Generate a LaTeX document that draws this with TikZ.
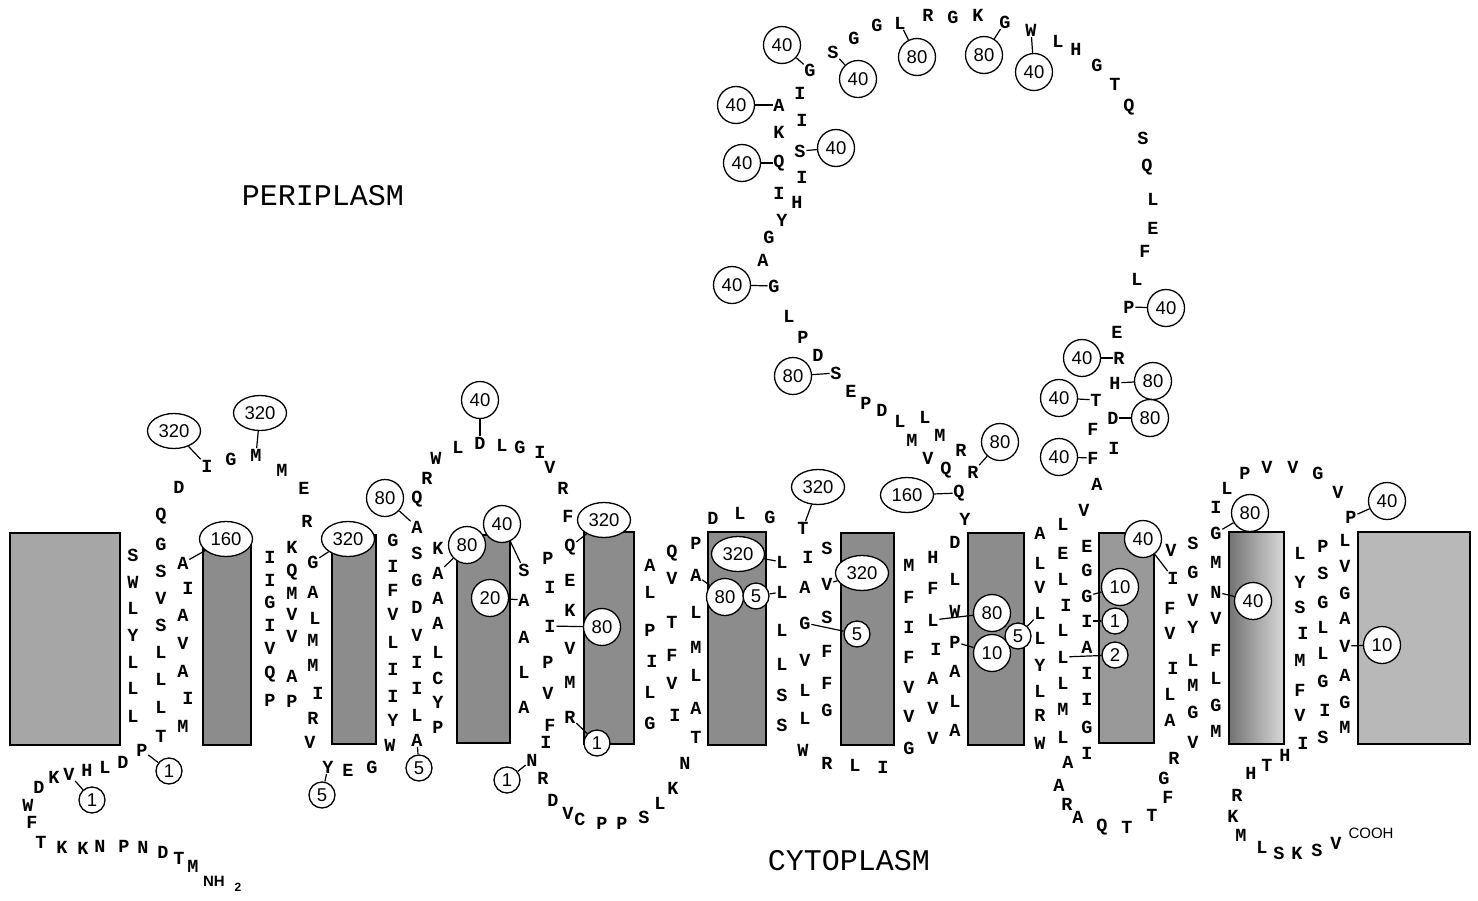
\documentclass[tikz,border=0pt]{standalone}
\usepackage{fontspec}
\usetikzlibrary{shapes.geometric}
\newfontfamily\aamono{Liberation Mono}
\newfontfamily\numsans{Liberation Sans}
\newcommand\aafont{\aamono\bfseries\fontsize{18.5}{18.5}\selectfont}
\newcommand\numfont{\numsans\fontsize{18.5}{18.5}\selectfont}
\newcommand\regfont{\aamono\fontsize{30}{30}\selectfont}
\begin{document}
\begin{tikzpicture}[x=1pt,y=-1pt,
  aa/.style={font=\aafont, inner sep=0.6pt},
  num/.style={circle, draw, line width=1.3pt, fill=white, minimum size=37pt, inner sep=0pt, font=\numfont},
  sm/.style={num, minimum size=26pt},
  el/.style={ellipse, draw, line width=1.3pt, fill=white, minimum width=53pt, minimum height=35pt, inner sep=0pt, font=\numfont},
  lk/.style={line width=1.2pt},
  tm/.style={draw, line width=1.8pt, fill=black!45},
  region/.style={font=\regfont}]
\useasboundingbox (0,0) rectangle (1478,900);

% membrane-spanning segments
\draw[tm, fill=black!35] (10,533) rectangle (120,745);
\draw[tm] (203,535) rectangle (251,745);
\draw[tm] (332,535) rectangle (376,744);
\draw[tm] (457,535) rectangle (510,743);
\draw[tm] (584,532) rectangle (634,744);
\draw[tm] (708,532) rectangle (766,745);
\draw[tm] (841,533) rectangle (894,745);
\draw[tm] (968,533) rectangle (1024,745);
\draw[tm, fill=black!40] (1099,533) rectangle (1154,743);
\draw[line width=1.8pt, left color=black!55, right color=black!15] (1229,532) rectangle (1284,744);
\draw[tm, fill=black!28] (1358,532) rectangle (1470,744);

% compartment labels
\node[region] (peri) at (323,196) {PERIPLASM};
\node[region] (cyto) at (849,861) {CYTOPLASM};
\node[font=\numsans\bfseries\fontsize{15}{15}\selectfont, inner sep=0pt] (nh) at (214,881) {NH};
\node[font=\numsans\bfseries\fontsize{12}{12}\selectfont, inner sep=0pt] (nhtwo) at (238,887) {2};
\node[font=\numsans\fontsize{15}{15}\selectfont, inner sep=0pt] (cooh) at (1371,833) {COOH};

% labelled positions (circles and ellipses)
\node[sm] (ntc1) at (92,800) {1};
\node[sm] (ntc2) at (169,771) {1};
\node[el] (e320a) at (174,431) {320};
\node[el] (e320b) at (260,413) {320};
\node[el] (e160a) at (226,539) {160};
\node[el] (e320c) at (348,539) {320};
\node[sm] (s5a) at (322,795) {5};
\node[num] (c80a) at (385,498) {80};
\node[sm] (s5b) at (419,768) {5};
\node[num] (c40a) at (480,400) {40};
\node[num] (c80b) at (467,545) {80};
\node[num] (c40b) at (502,524) {40};
\node[num] (c20) at (490,598) {20};
\node[el] (e320d) at (604,520) {320};
\node[num] (c80c) at (602,627) {80};
\node[sm] (s1a) at (597,743) {1};
\node[sm] (s1b) at (507,780) {1};
\node[el] (e320e) at (818,487) {320};
\node[el] (e320f) at (738,554) {320};
\node[num] (c80d) at (725,597) {80};
\node[sm] (s5c) at (756,596) {5};
\node[el] (e320g) at (862,573) {320};
\node[sm] (s5d) at (857,634) {5};
\node[el] (e160b) at (907,495) {160};
\node[num] (c80e) at (1000,442) {80};
\node[num] (c80f) at (992,613) {80};
\node[num] (c10a) at (992,653) {10};
\node[sm] (s5e) at (1018,636) {5};
\node[num] (c40c) at (1143,539) {40};
\node[num] (c10b) at (1120,587) {10};
\node[sm] (s1c) at (1115,621) {1};
\node[sm] (s2) at (1115,655) {2};
\node[num] (c80g) at (1250,513) {80};
\node[num] (c40d) at (1253,601) {40};
\node[num] (c40e) at (1387,501) {40};
\node[num] (c10c) at (1382,645) {10};
\node[num] (c40t1) at (782,45) {40};
\node[num] (c40t2) at (858,79) {40};
\node[num] (c80t1) at (917,57) {80};
\node[num] (c80t2) at (984,55) {80};
\node[num] (c40t3) at (1034,72) {40};
\node[num] (c40t4) at (736,105) {40};
\node[num] (c40t5) at (836,148) {40};
\node[num] (c40t6) at (742,163) {40};
\node[num] (c40t7) at (732,285) {40};
\node[num] (c80t3) at (793,376) {80};
\node[num] (c40t8) at (1166,308) {40};
\node[num] (c40t9) at (1082,358) {40};
\node[num] (c80t4) at (1153,381) {80};
\node[num] (c40t10) at (1059,398) {40};
\node[num] (c80t5) at (1150,418) {80};
\node[num] (c40t11) at (1059,457) {40};

% residues carrying a label
\node[aa] (ntV) at (69,774) {V};
\node[aa] (ntP) at (142,750) {P};
\node[aa] (rA1) at (183,563) {A};
\node[aa] (rI1) at (207,466) {I};
\node[aa] (rM1) at (256,455) {M};
\node[aa] (rG1) at (313,562) {G};
\node[aa] (rY1) at (328,767) {Y};
\node[aa] (rD2) at (480,443) {D};
\node[aa] (rA2) at (417,527) {A};
\node[aa] (rA3) at (417,740) {A};
\node[aa] (rA4) at (438,573) {A};
\node[aa] (rS2) at (524,570) {S};
\node[aa] (rA5) at (524,600) {A};
\node[aa] (rI2) at (550,626) {I};
\node[aa] (rQ2) at (570,547) {Q};
\node[aa] (rR2) at (570,717) {R};
\node[aa] (rN2) at (532,760) {N};
\node[aa] (rA6) at (696,575) {A};
\node[aa] (rT3) at (803,528) {T};
\node[aa] (rL3) at (782,562) {L};
\node[aa] (rL4) at (782,592) {L};
\node[aa] (rG3) at (805,623) {G};
\node[aa] (rV3) at (827,584) {V};
\node[aa] (rL5) at (933,620) {L};
\node[aa] (rP5) at (955,642) {P};
\node[aa] (rQ5) at (959,493) {Q};
\node[aa] (rR5) at (973,472) {R};
\node[aa] (rS5) at (836,373) {S};
\node[aa] (rL6) at (1040,613) {L};
\node[aa] (rL7) at (1063,657) {L};
\node[aa] (rG7) at (1087,596) {G};
\node[aa] (rI7) at (1087,621) {I};
\node[aa] (rI8) at (1173,578) {I};
\node[aa] (rF8) at (1093,458) {F};
\node[aa] (rD8) at (1113,418) {D};
\node[aa] (rT8) at (1096,400) {T};
\node[aa] (rH8) at (1115,383) {H};
\node[aa] (rR8) at (1119,358) {R};
\node[aa] (rP8) at (1129,307) {P};
\node[aa] (rW9) at (1031,30) {W};
\node[aa] (rG9) at (1005,22) {G};
\node[aa] (rL9) at (900,23) {L};
\node[aa] (rS9) at (833,52) {S};
\node[aa] (rG10) at (810,70) {G};
\node[aa] (rA10) at (779,105) {A};
\node[aa] (rS10) at (800,151) {S};
\node[aa] (rQ10) at (779,163) {Q};
\node[aa] (rG11) at (774,286) {G};
\node[aa] (rG12) at (1216,533) {G};
\node[aa] (rN12) at (1216,592) {N};
\node[aa] (rP12) at (1351,517) {P};
\node[aa] (rV12) at (1345,646) {V};

% remaining residues
\foreach \x/\y/\t [count=\i] in {193/866/M,179/858/T,163/852/D,143/847/N,124/846/P,100/846/N,83/848/K,62/847/K,41/842/T,32/822/F,28/805/W,39/787/D,54/777/K,87/770/H,105/767/L,123/762/D}
  \node[aa] (nt\i) at (\x,\y) {\t};

\foreach \x/\y/\t [count=\i] in {133/555/S,133/582/W,133/608/L,133/635/Y,133/662/L,133/688/L,133/716/L,
  161/516/Q,161/544/G,161/571/S,161/598/V,161/625/S,161/652/L,161/679/L,161/707/L,161/736/T,
  188/588/I,183/615/A,183/643/V,183/671/A,188/698/I,183/726/M,
  179/487/D,231/459/G,282/470/M,304/488/E,307/521/R,
  270/557/I,270/580/I,270/602/G,270/625/I,270/648/V,270/674/Q,270/700/P,
  292/547/K,292/572/Q,292/593/M,292/614/V,292/636/V,292/676/A,292/701/P,
  313/592/A,315/618/L,313/640/M,313/665/M,318/693/I,313/718/R,310/742/V,
  348/770/E,372/767/G,390/745/W,
  393/540/G,393/566/I,393/590/F,393/614/V,393/642/L,393/669/I,393/696/I,393/720/Y}
  \node[aa] (ha\i) at (\x,\y) {\t};

\foreach \x/\y/\t [count=\i] in {417/499/Q,427/478/R,436/458/W,458/447/L,502/445/L,520/447/G,540/452/I,550/467/V,563/488/R,568/516/F,
  417/553/S,417/580/G,417/607/D,417/635/V,417/662/I,417/688/I,417/715/L,
  438/548/K,438/598/A,438/623/A,438/652/L,438/678/C,438/702/Y,438/727/P,
  524/637/A,524/672/L,524/707/A,
  548/558/P,550/587/I,548/662/P,548/693/V,550/725/F,546/742/I,
  570/580/E,570/610/K,570/648/V,570/682/M,
  543/778/R,553/800/D,568/813/V,580/819/C,602/823/P,622/823/P,644/817/S,660/803/L,673/788/K,685/763/N,
  650/565/A,650/592/L,650/630/P,652/661/I,650/692/L,650/723/G,
  672/553/Q,672/578/V,672/622/T,672/655/F,672/683/V,675/715/I,
  696/543/P,696/612/L,696/647/M,696/675/L,696/708/A,696/737/T,
  713/518/D,740/513/L,770/517/G}
  \node[aa] (hb\i) at (\x,\y) {\t};

\foreach \x/\y/\t [count=\i] in {782/630/L,782/664/L,782/695/S,782/725/S,
  808/557/I,805/587/A,805/660/V,805/690/L,805/718/L,803/750/W,
  827/548/S,827/617/S,827/651/F,827/683/F,827/710/G,
  827/763/R,855/765/L,883/767/I,
  909/565/M,909/597/F,909/627/I,909/657/F,909/687/V,909/716/V,909/748/G,
  933/557/H,933/588/F,936/649/I,933/678/A,933/708/V,933/738/V,
  955/542/D,955/579/L,955/611/W,955/671/A,955/701/L,955/730/A,
  965/519/Y,946/470/Q,928/458/V,961/450/R,940/435/M,912/440/M,925/417/L,900/421/L,882/410/D,866/403/P,851/391/E}
  \node[aa] (hc\i) at (\x,\y) {\t};

\foreach \x/\y/\t [count=\i] in {1040/533/A,1040/563/L,1040/587/V,1040/638/L,1040/665/Y,1040/691/L,1040/715/R,1040/743/W,
  1063/524/L,1063/553/E,1063/579/L,1066/605/I,1063/630/L,1063/683/L,1063/709/M,1063/737/L,
  1068/762/A,1059/785/A,1067/804/R,1078/817/A,1102/827/Q,1127/827/T,1152/815/T,1168/797/F,1164/778/G,1174/758/R,
  1087/546/E,1087/570/G,1087/647/A,1087/673/I,1087/699/I,1087/727/G,1087/753/I,
  1171/550/V,1170/608/F,1170/633/V,1173/668/I,1170/694/L,1170/720/A,
  1084/510/V,1097/484/A,1114/448/I,1093/429/F,1117/332/E}
  \node[aa] (hd\i) at (\x,\y) {\t};

\foreach \x/\y/\t [count=\i] in {1137/279/L,1145/251/F,1153/228/E,1153/199/L,1147/167/Q,1143/138/S,1129/107/Q,1115/84/T,1097/65/G,1076/49/H,1058/41/L,
  978/15/K,953/17/G,928/15/R,877/25/G,854/38/G,800/93/I,802/120/I,779/132/K,802/177/I,779/193/I,797/202/H,
  782/220/Y,769/237/G,763/260/A,789/316/L,803/337/P,818/355/D}
  \node[aa] (tp\i) at (\x,\y) {\t};

\foreach \x/\y/\t [count=\i] in {1193/543/S,1193/572/G,1193/600/V,1193/627/Y,1193/660/L,1193/685/M,1193/712/G,1193/742/V,
  1216/507/I,1216/562/M,1216/618/V,1216/650/F,1216/678/L,1216/705/G,1216/731/M,
  1227/488/L,1245/473/P,1267/467/V,1293/467/V,1318/473/G,1338/492/V,
  1300/553/L,1300/582/Y,1300/607/S,1303/633/I,1300/660/M,1300/690/F,1300/715/V,1303/743/I,
  1323/546/P,1323/573/S,1323/602/G,1323/627/L,1323/653/L,1323/681/G,1325/710/I,1323/737/S,
  1345/540/L,1345/566/V,1345/593/G,1345/618/A,1345/675/A,1345/702/G,1345/727/M,
  1285/755/H,1267/765/T,1251/773/H,1237/795/R,1233/816/K,1241/835/M,1262/847/L,1279/853/S,1297/853/K,1317/850/S,1336/843/V}
  \node[aa] (ct\i) at (\x,\y) {\t};

% leader lines from residues to their labels
\foreach \a/\b in {ntV/ntc1, ntP/ntc2, rI1/e320a, rM1/e320b, rA1/e160a, rG1/e320c, rY1/s5a,
  rA2/c80a, rA3/s5b, rD2/c40a, rA4/c80b, rS2/c40b, rA5/c20, rQ2/e320d, rI2/c80c, rR2/s1a, rN2/s1b,
  rT3/e320e, rL3/e320f, rA6/c80d, rL4/s5c, rV3/e320g, rG3/s5d,
  rQ5/e160b, rR5/c80e, rL5/c80f, rP5/c10a, rL6/s5e,
  rI8/c40c, rG7/c10b, rI7/s1c, rL7/s2,
  rG12/c80g, rN12/c40d, rP12/c40e, rV12/c10c,
  rG10/c40t1, rS9/c40t2, rL9/c80t1, rG9/c80t2, rW9/c40t3, rA10/c40t4, rS10/c40t5, rQ10/c40t6, rG11/c40t7, rS5/c80t3,
  rP8/c40t8, rR8/c40t9, rH8/c80t4, rT8/c40t10, rD8/c80t5, rF8/c40t11}
  \draw[lk] (\a) -- (\b);
\end{tikzpicture}
\end{document}
